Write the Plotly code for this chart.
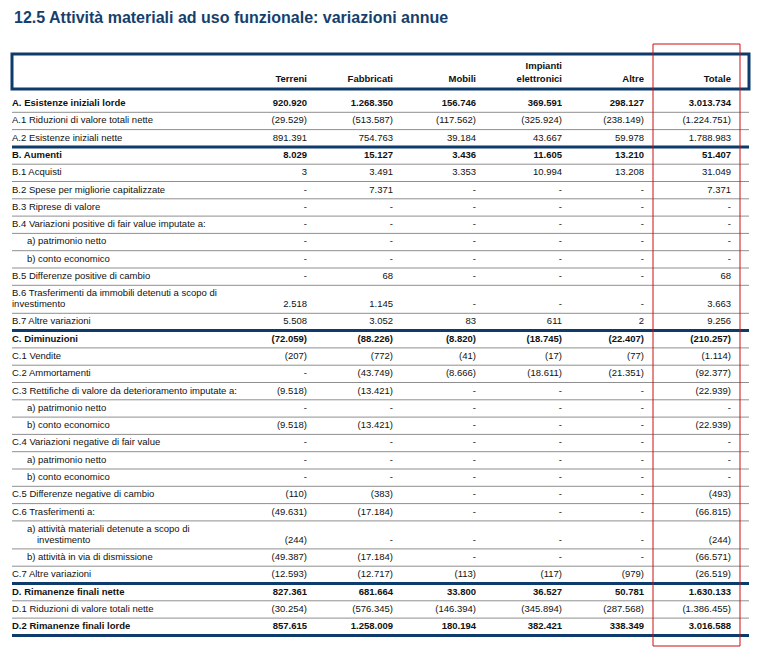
import plotly.graph_objects as go

title = "12.5 Attività materiali ad uso funzionale: variazioni annue"
columns = ["Terreni", "Fabbricati", "Mobili", "Impianti<br>elettronici", "Altre", "Totale"]

labels = [
    "A. Esistenze iniziali lorde",
    "A.1 Riduzioni di valore totali nette",
    "A.2 Esistenze iniziali nette",
    "B. Aumenti",
    "B.1 Acquisti",
    "B.2 Spese per migliorie capitalizzate",
    "B.3 Riprese di valore",
    "B.4 Variazioni positive di fair value imputate a:",
    "a) patrimonio netto",
    "b) conto economico",
    "B.5 Differenze positive di cambio",
    "B.6 Trasferimenti da immobili detenuti a scopo di\ninvestimento",
    "B.7 Altre variazioni",
    "C. Diminuzioni",
    "C.1 Vendite",
    "C.2 Ammortamenti",
    "C.3 Rettifiche di valore da deterioramento imputate a:",
    "a) patrimonio netto",
    "b) conto economico",
    "C.4 Variazioni negative di fair value",
    "a) patrimonio netto",
    "b) conto economico",
    "C.5 Differenze negative di cambio",
    "C.6 Trasferimenti a:",
    "a) attività materiali detenute a scopo di\ninvestimento",
    "b) attività in via di dismissione",
    "C.7 Altre variazioni",
    "D. Rimanenze finali nette",
    "D.1 Riduzioni di valore totali nette",
    "D.2 Rimanenze finali lorde",
]

N = None
terreni = [920920, -29529, 891391, 8029, 3, N, N, N, N, N, N, 2518, 5508,
           -72059, -207, N, -9518, N, -9518, N, N, N, -110, -49631, -244, -49387, -12593,
           827361, -30254, 857615]
fabbricati = [1268350, -513587, 754763, 15127, 3491, 7371, N, N, N, N, 68, 1145, 3052,
              -88226, -772, -43749, -13421, N, -13421, N, N, N, -383, -17184, N, -17184, -12717,
              681664, -576345, 1258009]
mobili = [156746, -117562, 39184, 3436, 3353, N, N, N, N, N, N, N, 83,
          -8820, -41, -8666, N, N, N, N, N, N, N, N, N, N, -113,
          33800, -146394, 180194]
impianti = [369591, -325924, 43667, 11605, 10994, N, N, N, N, N, N, N, 611,
            -18745, -17, -18611, N, N, N, N, N, N, N, N, N, N, -117,
            36527, -345894, 382421]
altre = [298127, -238149, 59978, 13210, 13208, N, N, N, N, N, N, N, 2,
         -22407, -77, -21351, N, N, N, N, N, N, N, N, N, N, -979,
         50781, -287568, 338349]
totale = [3013734, -1224751, 1788983, 51407, 31049, 7371, N, N, N, N, 68, 3663, 9256,
          -210257, -1114, -92377, -22939, N, -22939, N, N, N, -493, -66815, -244, -66571, -26519,
          1630133, -1386455, 3016588]

bold_rows = [0, 3, 13, 27, 29]
thick_after = [2, 12, 26, 29]

# ---- layout constants ----
W, H = 759, 652
OFF = 8  # page body margin
FONT = "Liberation Sans, Arial, sans-serif"
DARK = "#0d3b6b"
TXT = "#111111"
LEFT, RIGHT = 12, 749
col_right = [307, 393, 476, 562, 644, 731]
ROW_H, TALL_H = 17.3, 28.0
Y0 = 95.0
FS = 9.5


def fmt(v):
    if v is None:
        return "-"
    s = f"{abs(v):,}".replace(",", ".")
    return f"({s})" if v < 0 else s


# row geometry
tops, bottoms = [], []
y = Y0
for lab in labels:
    h = TALL_H if "\n" in lab else ROW_H
    tops.append(y)
    y += h
    bottoms.append(y)

num_y = []
for i, lab in enumerate(labels):
    if "\n" in lab:
        num_y.append(bottoms[i] - 8.5)
    else:
        num_y.append((tops[i] + bottoms[i]) / 2)

fig = go.Figure()

# labels
lx, ly, lt = [], [], []
for i, lab in enumerate(labels):
    indent = 27 if lab[:2] in ("a)", "b)") else LEFT
    parts = lab.split("\n")
    b = i in bold_rows
    if len(parts) == 1:
        lx.append(indent); ly.append(num_y[i])
        lt.append(f"<b>{lab}</b>" if b else lab)
    else:
        lx.append(indent); ly.append(bottoms[i] - 19.5); lt.append(parts[0])
        cont = indent + 10 if indent != LEFT else LEFT
        lx.append(cont); ly.append(bottoms[i] - 8.5); lt.append(parts[1])
fig.add_trace(go.Scatter(x=lx, y=ly, text=lt, mode="text", textposition="middle right",
                         textfont=dict(family=FONT, size=FS, color=TXT),
                         hoverinfo="skip", showlegend=False))

# numeric columns
series = [terreni, fabbricati, mobili, impianti, altre, totale]
for cx, vals in zip(col_right, series):
    txt = [f"<b>{fmt(v)}</b>" if i in bold_rows else fmt(v) for i, v in enumerate(vals)]
    fig.add_trace(go.Scatter(x=[cx] * len(vals), y=num_y, text=txt, mode="text",
                             textposition="middle left",
                             textfont=dict(family=FONT, size=FS, color=TXT),
                             hoverinfo="skip", showlegend=False))

# header
hy = [80 if "<br>" not in c else 73 for c in columns]
fig.add_trace(go.Scatter(x=col_right, y=hy,
                         text=[f"<b>{c.replace('<br>', '</b><br><b>')}</b>" for c in columns],
                         mode="text", textposition="middle left",
                         textfont=dict(family=FONT, size=FS, color=TXT),
                         hoverinfo="skip", showlegend=False))

shapes = []
# header box
shapes.append(dict(type="rect", xref="x", yref="y", x0=LEFT, x1=RIGHT, y0=54, y1=89,
                   line=dict(color=DARK, width=3)))
# row rules
for i, b in enumerate(bottoms):
    if i in thick_after:
        shapes.append(dict(type="line", xref="x", yref="y", x0=LEFT, x1=RIGHT, y0=b, y1=b,
                           line=dict(color=DARK, width=3)))
    else:
        shapes.append(dict(type="line", xref="x", yref="y", x0=LEFT, x1=RIGHT, y0=b, y1=b,
                           line=dict(color="#8f8f8f", width=1)))
# red highlight around Totale
shapes.append(dict(type="rect", xref="x", yref="y", x0=653, x1=740, y0=44, y1=646,
                   line=dict(color="#cc1111", width=1)))

fig.update_layout(
    width=W - OFF, height=H - OFF,
    margin=dict(l=0, r=0, t=0, b=0),
    paper_bgcolor="white", plot_bgcolor="white",
    xaxis=dict(range=[OFF, W], visible=False, fixedrange=True),
    yaxis=dict(range=[H, OFF], visible=False, fixedrange=True),
    shapes=shapes,
    annotations=[dict(text=f"<b>{title}</b>", x=LEFT, y=17, xref="x", yref="y",
                      xanchor="left", yanchor="middle", showarrow=False,
                      font=dict(family=FONT, size=16, color="#173f6d"))],
)

fig.write_html("out.html")
